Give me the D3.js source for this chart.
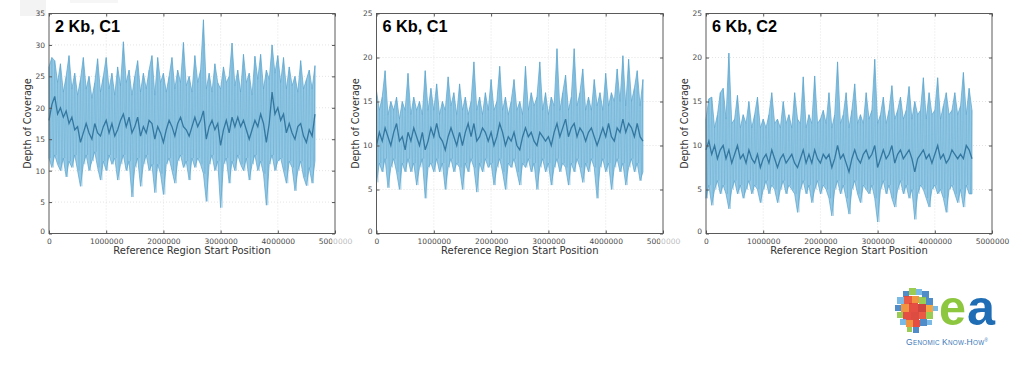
<!DOCTYPE html>
<html><head><meta charset="utf-8">
<script src="https://cdn.jsdelivr.net/npm/d3@7"></script>
<style>
html,body{margin:0;padding:0;background:#fff;}
svg{display:block;}
</style>
</head><body>
<svg id="chart" width="1021" height="372"></svg>
<script>
// ---------------- data ----------------
const xTicks = [0, 1000000, 2000000, 3000000, 4000000, 5000000];
const yTicks1 = [0, 5, 10, 15, 20, 25, 30, 35];
const yTicks2 = [0, 5, 10, 15, 20, 25];
const yTicks3 = [0, 5, 10, 15, 20, 25];
const titles = ["2 Kb, C1", "6 Kb, C1", "6 Kb, C2"];
const xLabel = "Reference Region Start Position";
const yLabel = "Depth of Coverage";
const positionStep = 50000; // reference region bin start spacing

// panel 1 : 2 Kb, C1
const hi1 = [26.5,28,27.5,24,27,22.5,25,28.3,23,25.5,22,24.5,28,23,25,21.5,24,27.8,22.5,25,28,23,25.5,22,26.5,23.5,30.5,24,26,22,25,27.5,22.5,25.5,23,26,28.3,22,28,24,25.5,22.5,25,28,23,26,24,30.4,23.5,25,22.5,28.3,24,26,34,23,25.5,22.5,27,24,23,26.5,24,25,30.3,23.5,26,22.5,28.5,24,25.5,22,28.2,24.5,28.5,23,26,24.5,30,25.5,28.3,24,28,23,26.5,23.5,25,22.5,27.5,23,24.5,26,23,26.7];
const lo1 = [12,10.5,12.5,11,10,12,9,11.5,10.5,12.5,10,7.5,11,12.5,10,11.5,13,10.5,8.5,11.5,10,12.5,11,12,8.5,11,12.5,10,11.5,5.8,10.5,12,7.5,11,12.5,10,11,6.5,11,9.5,6.2,11,12,10,8,11.5,12.5,10.5,11.5,8.5,12,10.5,12,11,9.5,5.1,11,12.5,10,11.5,4.1,11,12,8,11.5,10,12.5,11,10,12,8.5,11,12.5,10,11.5,9.5,4.5,11,12.5,10,11.5,12,10,8,11.5,10.5,6.8,10,11.5,9,7.6,10.5,8,11.5];
const mid1 = [18,20.5,21.8,19,20,18.5,19.5,17.5,18.5,16.5,17,14.5,16,17.5,16,15,17.5,16,15.5,17,18,16,17.5,15.5,16.5,18,19,17,18.5,16,17,18.5,15.5,17,16,18,17.5,15,17,16,14.5,16.5,18,17,15.5,17.5,18.5,17,16.5,15.5,17,18.5,17,18,19.5,15,17,18,16.5,17.5,14,16.5,18,16,18.5,17,18.5,17,18,16.5,15,16.5,18,17,19,17.5,14.5,17.5,22.5,19,20,18,19,16,17.5,16,15,17,17.5,15.5,14.5,16.5,15.5,19];

// panel 2 : 6 Kb, C1
const hi2 = [16.2,14,15.5,18.5,13.5,15,14,15.5,13,15,14,18.2,13.5,15.5,14,15,13.5,18.5,14,16.5,14,17,13.5,15,14,17.8,14.5,16,13.5,17,14,15.5,13.5,15,19.5,14,15.5,13.5,16,14,17.5,14,15,19,14,15.5,13.5,15,17.5,14,15,13.5,19,14,16,14.5,15.5,19.5,14,16,13.5,15.5,14.5,21,14,16,18,14,15.5,21,14.5,16,18.7,14,15.5,14,17.5,14.5,16,14,18.2,14.5,16,15,18.7,15,20.2,14.5,19.8,15,16.5,18.5,14.5,17.5];
const lo2 = [5.8,8,7,8.5,5.2,7.5,8.5,7,5,8,7,8.5,7,8,5.5,7.5,8.5,4,7.5,8,7,8.5,7,8,5,7.5,8.5,7,8,7.5,5,8,7,8.5,7.5,4.7,8,7,8.5,7.5,8,5.5,7.5,8.5,7,5,8,7.5,8.5,7,5.5,8,7.5,8.5,7,8,5,7.5,8.5,7,8,5.5,7.5,8.5,7,8,7.5,5.5,8,7,8.5,7.5,5.8,8,7,8.5,7.5,4,7.5,8.5,7,8,5,7.5,8.5,7,8,5.5,7.5,8.5,7,8,6,7];
const mid2 = [10,11.5,10.5,12,11,10,11.5,12.5,10.5,11,9.5,11.5,10.5,12,11,10,11.5,9.5,10.5,12,11,12.5,11,10.5,9.5,11,12,11,10,11.5,10,11.5,12.5,11,12.5,10.5,11,12,11.5,10.5,11.5,10,11,12.5,11.5,10,11,10.5,11.5,10,9.5,11,12,11,11.5,10.5,10,11.5,11,10.5,11,10,11.5,12.5,11,12,13,11,12,12.5,11,12,11.5,10.5,11.5,12,11,10,11,12,11,12.5,11,10.5,12,11.5,13,11.5,12.5,12,11,12.5,11,10.5];

// panel 3 : 6 Kb, C2
const hi3 = [13,15.3,15.5,12,13.5,16,16.5,13,20.5,12.5,13,15.7,12,13.5,12.5,15,12,13.5,15.5,12,13,12,13.5,16,12.5,13,12,15,12.5,13.5,12,16,13,12.5,17.8,12,13.5,12.5,17.9,12.5,13,14,12.5,16,12,13.5,19.5,12.5,13.5,16,12,14,17,12.5,13.5,12.5,16,13,14,19.8,12.5,13.5,15.5,12.5,14,16.8,13,14,15.5,13,14,16.7,13,15,13.5,14,17.7,13,16,13.5,14,17.7,13,14.5,16,13.5,14,16,13.5,14.5,18.3,13.5,16.5,14];
const lo3 = [4,5.5,3.2,5,6,4.5,5.5,4.5,2.8,5,6,4.5,5.5,4,5,6,4.5,5.5,5,3.5,5,6,4.5,5.5,5,3.5,5,6,4.5,5.5,5,4.5,2.4,5,6,4.5,5.5,3.5,5,6,4.5,5.5,5,4,2,5,6,4.5,5.5,4,2.2,5,6,4.5,3.5,5.5,5,4.5,5.5,4,1.3,5,6,4.5,5.5,4,3,5,6,4.5,5.5,4,5,1.6,4.5,5.5,5,4,3,5,5.5,4.5,5,4,2.4,5,5.5,4.5,3.5,5,3,5.5,4.5,4.5];
const mid3 = [9.5,10.5,9,10,8.5,9.5,10,8.5,9.5,8,9,10,8.5,9,8,9.5,8.5,8,9,7.5,8.5,9,8,9.5,8.5,7.5,8.5,9,8,8.5,9,8,7.5,8.5,9.5,8,9,8,9.5,8.5,8,9,8.5,9,7.5,8.5,10,8.5,9,8,7,8.5,9.5,8.5,8,9,9.5,8.5,9,10,7.5,8.5,9.5,8.5,9,10,8,9,9.5,8.5,9,9.5,8.5,7,8.5,9,9.5,8.5,9,8,9,10,8.5,9,8,8.5,9.5,9,8.5,9,8.5,10,9.5,8.5];

// ---------------- drawing ----------------
const svg = d3.select("#chart");
const F = "'DejaVu Sans', sans-serif";

// faint artifacts of the original composite image
svg.append("rect").attr("x",20).attr("y",0).attr("width",26).attr("height",16).attr("fill","#f3f3f3");
svg.append("rect").attr("x",70).attr("y",0).attr("width",48).attr("height",3).attr("fill","#f6f6f6");

const panels = [
  {title: titles[0], hi: hi1, lo: lo1, mid: mid1, yMax: 35, yTicks: yTicks1, left: 49, right: 335, fade: true},
  {title: titles[1], hi: hi2, lo: lo2, mid: mid2, yMax: 25, yTicks: yTicks2, left: 376.5, right: 663, fade: true},
  {title: titles[2], hi: hi3, lo: lo3, mid: mid3, yMax: 25, yTicks: yTicks3, left: 706, right: 992, fade: false}
];
const plotTop = 13.5, plotBottom = 233.5;

panels.forEach((p, pi) => {
  const pos = p.hi.map((_, i) => i * positionStep);
  const x = d3.scaleLinear().domain([0, 5000000]).range([p.left, p.right]);
  const y = d3.scaleLinear().domain([0, p.yMax]).range([plotBottom, plotTop]);
  const g = svg.append("g");

  // grid
  g.append("g").selectAll("line").data(xTicks.slice(1, -1)).join("line")
    .attr("x1", d => x(d)).attr("x2", d => x(d)).attr("y1", plotTop).attr("y2", plotBottom)
    .attr("stroke", "#d9d9d9").attr("stroke-width", 0.7).attr("stroke-dasharray", "1,2");
  g.append("g").selectAll("line").data(p.yTicks.slice(1, -1)).join("line")
    .attr("y1", d => y(d)).attr("y2", d => y(d)).attr("x1", p.left).attr("x2", p.right)
    .attr("stroke", "#d9d9d9").attr("stroke-width", 0.7).attr("stroke-dasharray", "1,2");

  // band (spread of coverage)
  const area = d3.area().x((d, i) => x(pos[i])).y0((d, i) => y(p.lo[i])).y1((d, i) => y(p.hi[i]));
  g.append("path").datum(p.hi).attr("d", area)
    .attr("fill", "#94c8e4").attr("stroke", "#5aa3cd").attr("stroke-width", 0.7).attr("stroke-linejoin", "miter");

  // raw trace texture: swings between the band edges at each bin
  const trace = [];
  p.hi.forEach((v, i) => { trace.push([pos[i], v]); trace.push([pos[i] + positionStep / 2, p.lo[i]]); });
  g.append("path").datum(trace.slice(0, -1))
    .attr("d", d3.line().x(d => x(d[0])).y(d => y(d[1])))
    .attr("fill", "none").attr("stroke", "#5aa5cf").attr("stroke-width", 0.6).attr("opacity", 0.55);

  // mean line
  const line = d3.line().x((d, i) => x(pos[i])).y(d => y(d));
  g.append("path").datum(p.mid).attr("d", line)
    .attr("fill", "none").attr("stroke", "#2a6f99").attr("stroke-width", 1.3).attr("opacity", 0.9);

  // frame
  g.append("rect").attr("x", p.left).attr("y", plotTop).attr("width", p.right - p.left).attr("height", plotBottom - plotTop)
    .attr("fill", "none").attr("stroke", "#5a5a5a").attr("stroke-width", 1);

  // axes (inward ticks, matplotlib classic look)
  const ax = g.append("g").attr("transform", `translate(0,${plotBottom})`)
    .call(d3.axisBottom(x).tickValues(xTicks).tickFormat(d3.format("d")).tickSizeInner(-3).tickSizeOuter(0).tickPadding(5));
  const ay = g.append("g").attr("transform", `translate(${p.left},0)`)
    .call(d3.axisLeft(y).tickValues(p.yTicks).tickFormat(d3.format("d")).tickSizeInner(-3).tickSizeOuter(0).tickPadding(4));
  const axT = g.append("g").attr("transform", `translate(0,${plotTop})`)
    .call(d3.axisTop(x).tickValues(xTicks).tickFormat("").tickSizeInner(-3).tickSizeOuter(0));
  const ayR = g.append("g").attr("transform", `translate(${p.right},0)`)
    .call(d3.axisRight(y).tickValues(p.yTicks).tickFormat("").tickSizeInner(-3).tickSizeOuter(0));
  [ax, ay, axT, ayR].forEach(a => {
    a.select(".domain").remove();
    a.selectAll("line").attr("stroke", "#555");
    a.selectAll("text").attr("font-family", F).attr("font-size", 7.5).attr("fill", "#4a4a4a");
  });
  ay.selectAll(".tick").filter(d => d === 0).select("text").attr("dy", "-0.05em");

  if (p.fade) {
    g.append("rect").attr("x", p.right - 3).attr("y", plotBottom + 3).attr("width", 20).attr("height", 11)
      .attr("fill", "#fff").attr("opacity", 0.62);
  }

  // title
  g.append("text").attr("x", p.left + 6).attr("y", 32).text(p.title)
    .attr("font-family", "'Liberation Sans', Arial, sans-serif").attr("font-weight", "bold").attr("font-size", 16.3).attr("fill", "#000");

  // axis labels
  g.append("text").attr("x", (p.left + p.right) / 2).attr("y", 254).attr("text-anchor", "middle")
    .text(xLabel).attr("font-family", F).attr("font-size", 10).attr("fill", "#333");
  g.append("text").attr("transform", `translate(${p.left - 18},${(plotTop + plotBottom) / 2}) rotate(-90)`)
    .attr("text-anchor", "middle").text(yLabel).attr("font-family", F).attr("font-size", 9.6).attr("fill", "#333");
});

// ---------------- logo ----------------
const logoCells = [
  [903,291,"#3d7fc2",6],[909,288,"#8fc640",7],[916,289,"#6bb2e3",6],[922,291,"#3d7fc2",7],
  [897,297,"#6bb2e3",7],[904,296,"#e8472f",8],[912,296,"#f08a2c",7],[919,297,"#8fc640",7],[926,298,"#3d7fc2",7],
  [895,305,"#3d7fc2",6],[901,304,"#f08a2c",8],[909,303,"#e23b2e",9],[918,304,"#c9302a",8],[926,305,"#f39a2b",7],[933,306,"#6bb2e3",5],
  [897,312,"#8fc640",6],[903,312,"#e23b2e",8],[911,312,"#d8382c",8],[919,312,"#e8472f",7],[926,312,"#8fc640",7],
  [900,319,"#6bb2e3",6],[906,320,"#f08a2c",7],[913,320,"#e23b2e",7],[920,319,"#3d7fc2",7],[927,320,"#6bb2e3",5],
  [907,327,"#8fc640",5],[913,327,"#3d7fc2",6]
];
svg.append("g").selectAll("rect").data(logoCells).join("rect")
  .attr("x", d => d[0]).attr("y", d => d[1]).attr("width", d => d[3]).attr("height", d => d[3])
  .attr("fill", d => d[2]).attr("opacity", 0.9);
svg.append("text").attr("x", 939).attr("y", 325).text("e").attr("font-family", "'Liberation Sans', Arial, sans-serif")
  .attr("font-weight", "bold").attr("font-size", 50).attr("fill", "#8dc63f").attr("textLength", 27).attr("lengthAdjust", "spacingAndGlyphs");
svg.append("text").attr("x", 967).attr("y", 325).text("a").attr("font-family", "'Liberation Sans', Arial, sans-serif")
  .attr("font-weight", "bold").attr("font-size", 50).attr("fill", "#1f6db4").attr("textLength", 28).attr("lengthAdjust", "spacingAndGlyphs");
const tag = svg.append("text").attr("x", 906).attr("y", 345)
  .attr("font-family", "'Liberation Sans', Arial, sans-serif").attr("fill", "#3a78b8").attr("letter-spacing", 0.3);
[["G",8.5],["ENOMIC ",6.3],["K",8.5],["NOW-",6.3],["H",8.5],["OW",6.3]].forEach(s => tag.append("tspan").attr("font-size", s[1]).text(s[0]));
tag.append("tspan").attr("font-size", 4.5).attr("dy", -3).text("®");
</script>
</body></html>
